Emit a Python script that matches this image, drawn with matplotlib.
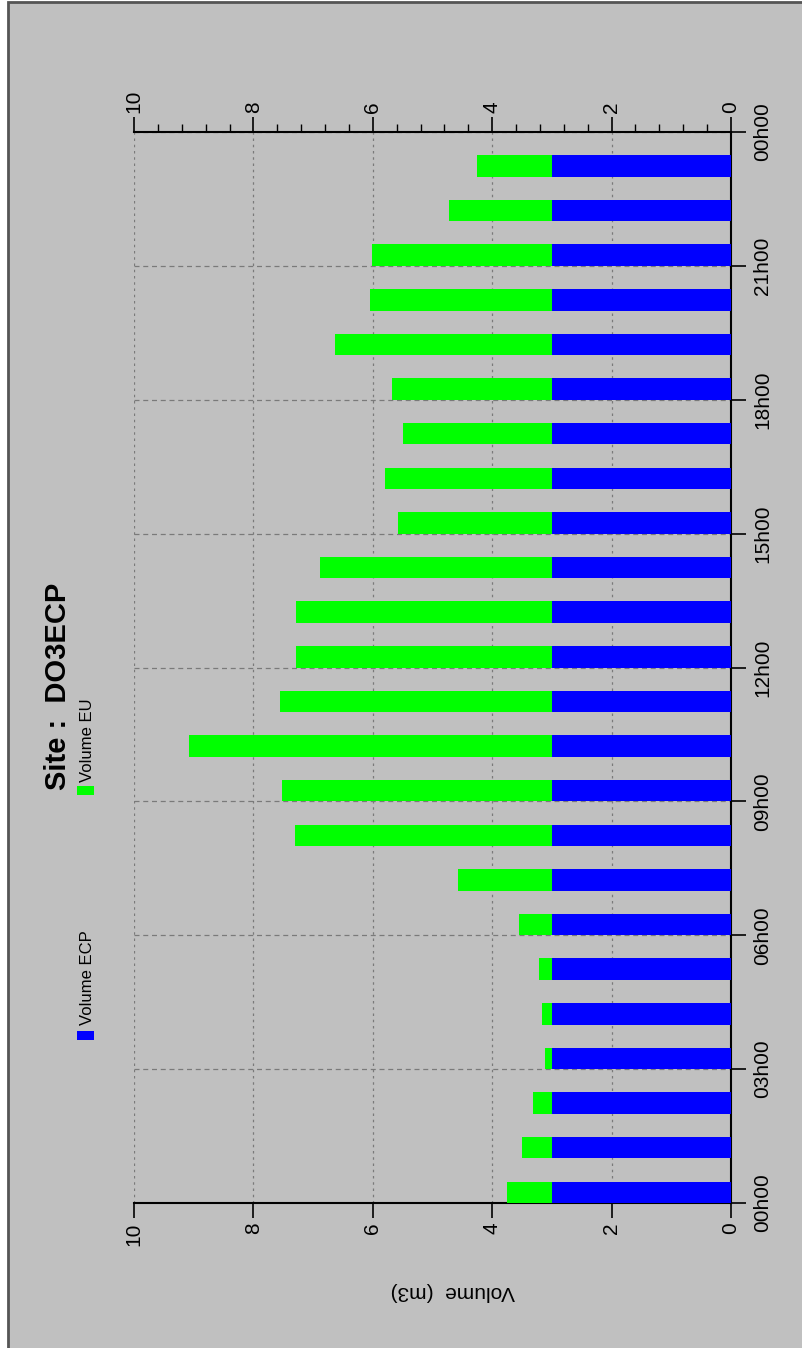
import matplotlib.pyplot as plt
from matplotlib.patches import Rectangle

plt.rcParams['font.family'] = ['Liberation Sans', 'DejaVu Sans']

# hourly volumes, one bar per hour
hours = list(range(24))
volume_ecp = [3.0, 3.0, 3.0, 3.0, 3.0, 3.0, 3.0, 3.0, 3.0, 3.0, 3.0, 3.0,
              3.0, 3.0, 3.0, 3.0, 3.0, 3.0, 3.0, 3.0, 3.0, 3.0, 3.0, 3.0]
volume_eu = [0.75, 0.50, 0.32, 0.12, 0.17, 0.22, 0.55, 1.58, 4.30, 4.52, 6.08, 4.56,
             4.29, 4.29, 3.88, 2.58, 2.80, 2.50, 2.68, 3.63, 3.05, 3.01, 1.72, 1.26]

hour_ticks = [0, 3, 6, 9, 12, 15, 18, 21, 24]
hour_labels = ["00h00", "03h00", "06h00", "09h00", "12h00", "15h00", "18h00", "21h00", "00h00"]
value_ticks = [0, 2, 4, 6, 8, 10]
value_minor = [0.4, 0.8, 1.2, 1.6, 2.4, 2.8, 3.2, 3.6, 4.4, 4.8, 5.2, 5.6,
               6.4, 6.8, 7.2, 7.6, 8.4, 8.8, 9.2, 9.6]

W, H = 802, 1348
bg = '#c0c0c0'

fig = plt.figure(figsize=(W / 100, H / 100), dpi=100, facecolor='white')
fig.patches.append(Rectangle((8 / W, -0.01), 1.0, 1 - 2 / H + 0.01, transform=fig.transFigure,
                             facecolor=bg, edgecolor='#555555', lw=2, zorder=-5))

# chart is drawn turned a quarter turn: hours go upwards, volume goes leftwards
ax = fig.add_axes([134 / W, 1 - 1203 / H, (731 - 134) / W, (1203 - 132) / H])
ax.set_facecolor(bg)
ax.barh(hours, volume_ecp, height=0.48, align='edge', color='#0000ff', zorder=3)
ax.barh(hours, volume_eu, left=volume_ecp, height=0.48, align='edge', color='#00ff00', zorder=3)
ax.set_xlim(10, 0)
ax.set_ylim(0, 24)

ax.yaxis.tick_right()
ax.set_yticks(hour_ticks, hour_labels)
ax.tick_params(axis='y', direction='out', length=11, width=1.2, pad=5, labelsize=15,
               labelrotation=90)
for lbl in ax.get_yticklabels():
    lbl.set_va('center')

ax.set_xticks(value_ticks, [str(v) for v in value_ticks])
ax.set_xticks(value_minor, minor=True)
ax.tick_params(axis='x', which='major', direction='out', top=True, bottom=True,
               labeltop=True, labelbottom=True, length=11, width=1.2, pad=3,
               labelsize=15, labelrotation=90)
ax.tick_params(axis='x', which='minor', direction='out', top=True, bottom=False,
               length=6, width=1.0)

ax.set_axisbelow(True)
ax.grid(axis='x', which='major', color='#7a7a7a', linestyle=(0, (2, 3)), lw=0.9)
ax.grid(axis='y', which='major', color='#7a7a7a', linestyle=(0, (4, 3)), lw=0.9)

ax.spines['left'].set_visible(False)
for s in ['right', 'top', 'bottom']:
    ax.spines[s].set_linewidth(1.5)

fig.text(58 / W, 1 - 686 / H, "Site :  DO3ECP", rotation=90, fontsize=21,
         fontweight='bold', ha='center', va='center')
fig.text(453 / W, 1 - 1292 / H, "Volume  (m3)", rotation=180, fontsize=15,
         ha='center', va='center')

# legend
fig.patches.append(Rectangle((77 / W, 1 - 1040 / H), 17 / W, 9 / H, transform=fig.transFigure,
                             facecolor='#0000ff', edgecolor='none'))
fig.text(87 / W, 1 - 1025 / H, "Volume ECP", rotation=90, fontsize=12, ha='center', va='bottom')
fig.patches.append(Rectangle((77 / W, 1 - 795 / H), 17 / W, 9 / H, transform=fig.transFigure,
                             facecolor='#00ff00', edgecolor='none'))
fig.text(87 / W, 1 - 782 / H, "Volume EU", rotation=90, fontsize=12, ha='center', va='bottom')

fig.savefig('out.png', dpi=100, facecolor=fig.get_facecolor())
